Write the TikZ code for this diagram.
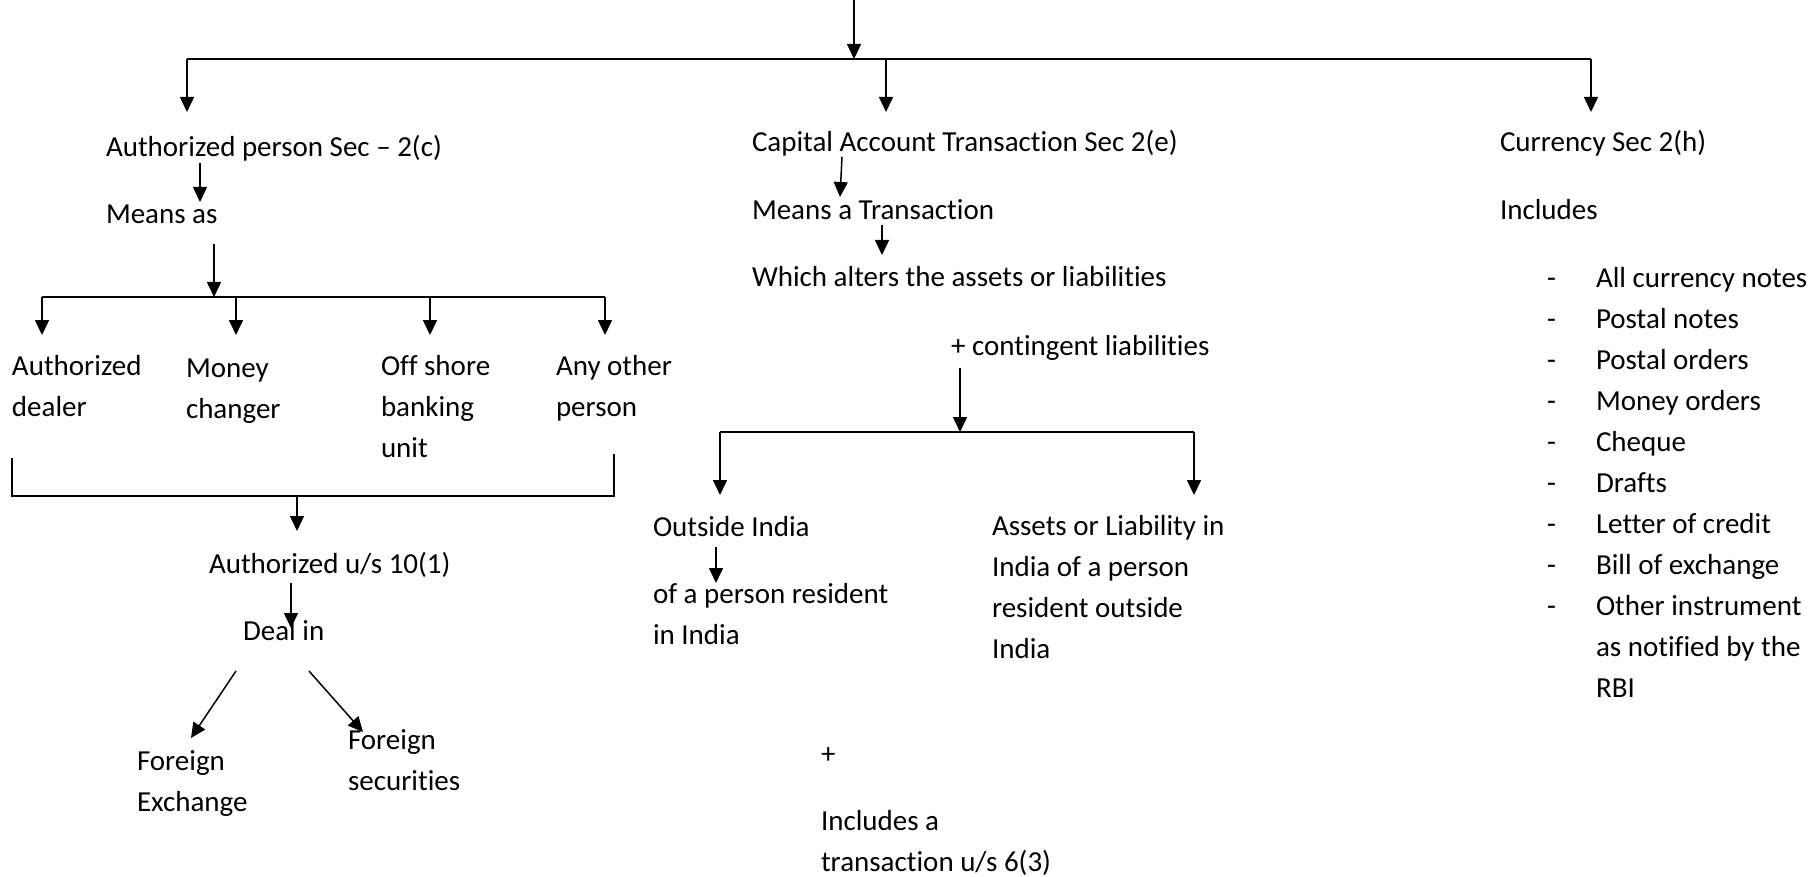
\documentclass[tikz,border=0pt]{standalone}
\usepackage{fontspec}
\setmainfont[Ligatures={TeX,NoCommon}]{Carlito}
\usetikzlibrary{arrows.meta}
\newcommand\lblfont{\fontsize{29}{41}\selectfont}
% fixed first-line height so every label is placed by its first baseline
\newcommand\fl{\rule{0pt}{26pt}}
\begin{document}
\begin{tikzpicture}[x=1pt,y=-1pt,
  txt/.style={anchor=north west, inner sep=0pt, outer sep=0pt, align=left,
              yshift=26pt, font=\lblfont},
  wire/.style={line width=1.8pt},
  arr/.style={line width=1.5pt, -{Triangle[length=15pt,width=14pt]}}]
\useasboundingbox (0,0) rectangle (1817,877);

% ---------- text ----------
% left branch
\node[txt] (ap)       at (106,157) {\fl Authorized person Sec – 2(c)};
\node[txt] (meansas)  at (106,224) {\fl Means as};
\node[txt] (dealer)   at (12,375)  {\fl Authorized\\dealer};
\node[txt] (changer)  at (186,377) {\fl Money\\changer};
\node[txt] (offshore) at (381,375) {\fl Off shore\\banking\\unit};
\node[txt] (anyother) at (556,375) {\fl Any other\\person};
\node[txt] (au)       at (209,573) {\fl Authorized u/s 10(1)};
\node[txt] (dealin)   at (243,640) {\fl Deal in};
\node[txt] (fx)       at (137,770) {\fl Foreign\\Exchange};
\node[txt] (fsec)     at (348,749) {\fl Foreign\\securities};
% middle branch
\node[txt] (cat)      at (752,152) {\fl Capital Account Transaction Sec 2(e)};
\node[txt] (meanstx)  at (752,220) {\fl Means a Transaction};
\node[txt] (alters)   at (752,287) {\fl Which alters the assets or liabilities};
\node[txt] (conting)  at (951,355) {\fl + contingent liabilities};
\node[txt] (outside)  at (653,536) {\fl Outside India};
\node[txt] (resident) at (653,603) {\fl of a person resident\\in India};
\node[txt] (assets)   at (992,535) {\fl Assets or Liability in\\India of a person\\resident outside\\India};
\node[txt] (plus)     at (821,763) {\fl +};
\node[txt] (incl)     at (821,830) {\fl Includes a\\transaction u/s 6(3)};
% right branch
\node[txt] (currency) at (1500,152) {\fl Currency Sec 2(h)};
\node[txt] (includes) at (1500,220) {\fl Includes};
\node[txt] (items)    at (1547,287) {%
  \fl\makebox[49pt][l]{-}All currency notes\\
  \makebox[49pt][l]{-}Postal notes\\
  \makebox[49pt][l]{-}Postal orders\\
  \makebox[49pt][l]{-}Money orders\\
  \makebox[49pt][l]{-}Cheque\\
  \makebox[49pt][l]{-}Drafts\\
  \makebox[49pt][l]{-}Letter of credit\\
  \makebox[49pt][l]{-}Bill of exchange\\
  \makebox[49pt][l]{-}Other instrument\\
  \hspace*{49pt}as notified by the\\
  \hspace*{49pt}RBI};

% ---------- connector points ----------
\coordinate (root)   at (854,0);
\coordinate (busL)   at (187,59);
\coordinate (busM)   at (886,59);
\coordinate (busR)   at (1591,59);
\coordinate (apIn)   at (187,112);
\coordinate (catIn)  at (886,112);
\coordinate (curIn)  at (1591,112);

\coordinate (a1s) at (200,163);  \coordinate (a1e) at (200,202);
\coordinate (a2s) at (214,244);  \coordinate (a2e) at (214,297);
\coordinate (b2L) at (42,297);   \coordinate (b2R) at (605,297);
\coordinate (k1) at (42,335);    \coordinate (k2) at (236,335);
\coordinate (k3) at (430,335);   \coordinate (k4) at (605,335);
\coordinate (brTL) at (12,458);  \coordinate (brBL) at (12,496);
\coordinate (brBR) at (614,496); \coordinate (brTR) at (614,454);
\coordinate (a3s) at (297,496);  \coordinate (a3e) at (297,531);
\coordinate (a4s) at (291,583);  \coordinate (a4e) at (291,628);
\coordinate (d1s) at (236,671);  \coordinate (d1e) at (191,738);
\coordinate (d2s) at (309,671);  \coordinate (d2e) at (363,732);

\coordinate (m1s) at (842,157);  \coordinate (m1e) at (840,197);
\coordinate (m2s) at (882,225);  \coordinate (m2e) at (882,255);
\coordinate (m3s) at (960,368);  \coordinate (m3e) at (960,432);
\coordinate (b3L) at (720,432);  \coordinate (b3R) at (1194,432);
\coordinate (j1) at (720,495);   \coordinate (j2) at (1194,495);
\coordinate (m4s) at (716,547);  \coordinate (m4e) at (716,583);

% ---------- connectors ----------
\draw[arr]  (root) -- (root |- busL);
\draw[wire] (busL) -- (busR);
\draw[arr]  (busL) -- (apIn);
\draw[arr]  (busM) -- (catIn);
\draw[arr]  (busR) -- (curIn);

\draw[arr]  (a1s) -- (a1e);
\draw[arr]  (a2s) -- (a2e);
\draw[wire] (b2L) -- (b2R);
\draw[arr]  (b2L) -- (k1);
\draw[arr]  (k2 |- b2L) -- (k2);
\draw[arr]  (k3 |- b2L) -- (k3);
\draw[arr]  (b2R) -- (k4);
\draw[wire] (brTL) -- (brBL) -- (brBR) -- (brTR);
\draw[arr]  (a3s) -- (a3e);
\draw[arr]  (a4s) -- (a4e);
\draw[arr]  (d1s) -- (d1e);
\draw[arr]  (d2s) -- (d2e);

\draw[arr]  (m1s) -- (m1e);
\draw[arr]  (m2s) -- (m2e);
\draw[arr]  (m3s) -- (m3e);
\draw[wire] (b3L) -- (b3R);
\draw[arr]  (b3L) -- (j1);
\draw[arr]  (b3R) -- (j2);
\draw[arr]  (m4s) -- (m4e);
\end{tikzpicture}
\end{document}
